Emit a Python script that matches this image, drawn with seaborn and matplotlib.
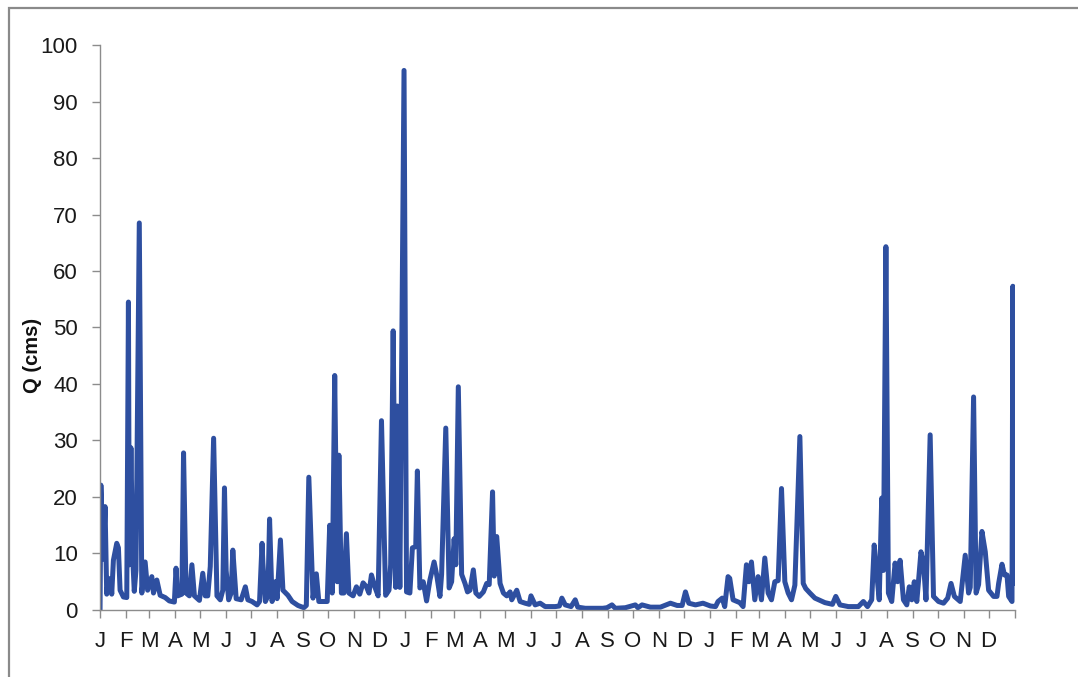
import matplotlib
matplotlib.use("Agg")
import matplotlib.pyplot as plt
import pandas as pd
import seaborn as sns
from matplotlib.patches import Rectangle

# Daily discharge record, three calendar years: day of record (0 = 1 Jan of
# the first year) and streamflow Q in cubic metres per second.
day = [
    0, 1, 4, 6, 8, 10, 13, 14, 16, 20, 22, 24, 28, 32, 34, 35, 37, 39, 41, 43,
    47, 50, 54, 57, 62, 64, 68, 72, 78, 83, 89, 91, 93, 98, 100, 103, 107, 110,
    113, 119, 123, 126, 129, 132, 136, 140, 144, 147, 149, 151, 154, 157, 159,
    163, 169, 174, 177, 182, 188, 191, 194, 195, 198, 201, 203, 206, 210, 212,
    216, 219, 225, 230, 237, 244, 247, 250, 255, 259, 262, 272, 275, 278, 281,
    284, 286, 289, 292, 295, 298, 303, 307, 311, 315, 319, 322, 325, 329, 333,
    337, 342, 346, 348, 351, 354, 356, 359, 364, 367, 371, 374, 378, 380, 383,
    387, 391, 395, 400, 403, 407, 409, 414, 418, 421, 424, 426, 429, 433, 437,
    440, 443, 447, 450, 454, 459, 463, 466, 470, 472, 475, 479, 483, 487, 491,
    493, 499, 503, 509, 514, 516, 521, 527, 533, 545, 550, 553, 557, 564, 569,
    572, 581, 593, 602, 607, 613, 617, 629, 641, 644, 649, 659, 671, 683, 691,
    697, 701, 705, 713, 722, 731, 737, 740, 745, 748, 752, 754, 758, 766, 770,
    774, 777, 780, 784, 788, 792, 796, 800, 804, 808, 812, 816, 820, 824, 828,
    832, 838, 842, 845, 850, 856, 868, 877, 881, 886, 896, 908, 914, 919, 924,
    927, 930, 933, 936, 938, 941, 944, 948, 952, 955, 958, 962, 966, 969, 972,
    975, 978, 983, 986, 989, 994, 998, 1004, 1010, 1015, 1019, 1023, 1030,
    1036, 1040, 1042, 1046, 1049, 1052, 1056, 1060, 1064, 1070, 1074, 1076,
    1080, 1083, 1086, 1088, 1092, 1093, 1094,
]
flow = [
    0.0, 22.1, 9.0, 18.3, 2.8, 5.6, 5.2, 2.8, 8.8, 11.8, 11.0, 3.5, 2.3, 2.2,
    54.5, 8.0, 28.7, 9.7, 3.3, 7.0, 68.5, 3.0, 8.5, 3.5, 5.9, 3.0, 5.3, 2.6,
    2.2, 1.6, 1.4, 7.4, 2.5, 2.8, 27.8, 3.0, 2.5, 8.0, 2.5, 1.7, 6.5, 2.5,
    2.5, 7.7, 30.4, 2.5, 1.8, 3.5, 21.6, 7.0, 1.8, 3.0, 10.6, 2.0, 1.8, 4.1,
    1.8, 1.5, 0.9, 1.5, 11.8, 8.3, 1.5, 2.5, 16.1, 1.5, 5.0, 2.0, 12.4, 3.5,
    2.6, 1.5, 0.8, 0.4, 0.8, 23.5, 2.1, 6.4, 1.5, 1.5, 15.0, 3.0, 41.5, 5.0,
    27.4, 3.0, 3.0, 13.5, 3.0, 2.5, 4.1, 2.8, 4.8, 4.1, 3.0, 6.2, 4.1, 2.5,
    33.5, 2.6, 3.5, 8.0, 49.4, 4.0, 36.1, 4.0, 95.5, 3.2, 3.0, 11.0, 11.2,
    24.6, 3.9, 5.0, 1.6, 5.3, 8.5, 6.3, 2.4, 6.3, 32.2, 3.9, 5.0, 12.6, 8.0,
    39.5, 6.3, 4.7, 3.2, 3.5, 7.1, 3.0, 2.4, 3.2, 4.7, 4.5, 20.9, 6.0, 13.0,
    4.7, 3.0, 2.5, 3.2, 1.8, 3.5, 1.5, 1.2, 1.0, 2.5, 0.9, 1.2, 0.6, 0.6, 0.7,
    2.1, 0.9, 0.6, 1.8, 0.5, 0.3, 0.3, 0.3, 0.4, 0.9, 0.3, 0.4, 0.9, 0.4, 0.9,
    0.5, 0.5, 1.2, 0.8, 0.8, 3.2, 1.2, 0.9, 1.2, 0.7, 0.6, 1.5, 2.1, 0.6, 5.9,
    5.6, 1.8, 1.3, 0.6, 8.0, 5.0, 8.5, 1.8, 5.9, 1.8, 9.2, 3.0, 1.8, 5.0, 5.2,
    21.5, 5.0, 3.0, 1.8, 4.4, 30.7, 4.7, 3.8, 3.0, 2.1, 1.3, 1.0, 2.4, 0.9,
    0.6, 0.6, 1.5, 0.6, 1.8, 11.5, 6.5, 1.8, 19.8, 7.0, 64.3, 3.0, 1.5, 8.3,
    5.0, 8.8, 1.8, 0.9, 4.1, 1.8, 5.0, 1.5, 10.3, 8.3, 1.8, 31.0, 2.4, 1.5,
    1.2, 2.1, 4.7, 2.4, 1.5, 9.7, 3.0, 4.0, 37.7, 3.0, 4.5, 13.9, 10.3, 3.5,
    2.4, 2.4, 4.7, 8.1, 6.2, 6.2, 2.4, 1.5, 57.3, 4.7,
]

start_date = "2001-01-01"
month_labels = list("JFMAMJJASOND") * 3 + [""]
y_ticks = list(range(0, 101, 10))

df = pd.DataFrame({
    "date": pd.Timestamp(start_date) + pd.to_timedelta(day, unit="D"),
    "Q": flow,
})
month_starts = pd.date_range(start_date, periods=len(month_labels), freq="MS")

sns.set_style("white")
plt.rcParams["font.family"] = ["Liberation Sans", "DejaVu Sans"]

fig = plt.figure(figsize=(10.78, 6.77), dpi=100)
ax = fig.add_axes([0.0928, 0.099, 0.8483, 0.8345])

sns.lineplot(data=df, x="date", y="Q", ax=ax, color="#2E4FA0",
             linewidth=3.6, solid_joinstyle="round", solid_capstyle="round")

ax.set_xlim(month_starts[0], month_starts[-1])
ax.set_ylim(0, 100)
ax.set_xticks(month_starts)
ax.set_xticklabels(month_labels)
ax.set_yticks(y_ticks)
ax.set_yticklabels([str(v) for v in y_ticks])

ax.set_xlabel("")
ax.set_ylabel("")
fig.text(32 / 1078, 1 - 355 / 677, "Q (cms)", rotation=90, ha="center",
         va="center", fontsize=14.5, fontweight="bold", color="#111111")

for side in ("top", "right"):
    ax.spines[side].set_visible(False)
for side in ("left", "bottom"):
    ax.spines[side].set_color("#8C8C8C")
    ax.spines[side].set_linewidth(1.0)

ax.tick_params(axis="both", which="major", direction="out", length=6,
               width=1.0, color="#8C8C8C", labelsize=16, labelcolor="#1A1A1A",
               left=True, bottom=True)
ax.tick_params(axis="y", pad=10)
ax.tick_params(axis="x", pad=9)
ax.grid(False)

# outer chart-area frame
fig.patches.append(Rectangle((8.5 / 1078, -0.2), 1.2, 0.2 + (677 - 7.5) / 677,
                             transform=fig.transFigure, fill=False,
                             edgecolor="#8A8A8A", linewidth=1.6))

fig.savefig("out.png", dpi=100)
